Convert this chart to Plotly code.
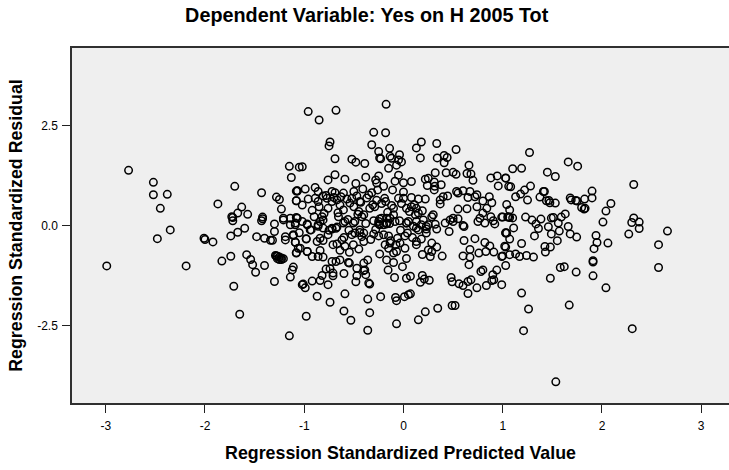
import plotly.graph_objects as go

predicted = [
-2.77,-2.52,-2.52,-2.38,-2.45,-1.87,-1.70,-1.43,-1.15,-1.13,-1.05,-1.08,-1.07,-1.28,-1.25,-1.08,-1.23,-1.63,-1.67,-1.57,-1.73,-1.42,-1.21,-1.08,
-2.99,-2.48,-2.35,-2.19,-2.01,-2.00,-1.92,-1.74,-1.67,-1.60,-1.72,-1.72,-1.43,-1.42,-1.30,-1.30,-1.48,-1.40,-1.34,-1.32,-1.19,-1.19,-1.11,-1.09,-1.06,-1.08,-1.74,-1.83,-1.58,-1.54,-1.52,-1.49,-1.40,-1.71,-1.65,-1.30,-1.14,-1.12,-1.11,-1.15,-1.29,-1.28,-1.27,-1.25,-1.23,-1.21,-1.27,-1.25,-1.23,-1.02,-1.21,-1.14,-1.14,-1.09,
-0.96,-0.85,-0.68,-0.175,-0.30,-0.18,-0.74,-0.75,-0.32,-0.25,-0.14,-0.24,-0.23,-0.135,-0.12,-0.04,-0.05,-0.02,-0.07,-0.15,-0.69,-0.52,-0.48,-0.39,0.18,0.13,0.17,0.335,0.34,0.41,0.44,0.41,0.53,0.66,-1.02,-0.69,-0.76,-0.59,-0.48,-0.38,-0.25,-0.28,-0.27,-0.20,-0.085,-0.05,0.0,0.08,-0.11,0.0,0.22,0.25,0.24,0.32,0.31,0.315,0.31,0.38,0.43,0.50,0.53,0.64,0.68,0.70,0.88,0.945,1.03,0.955,1.06,
-0.98,-0.87,-0.74,-0.59,-0.60,-0.53,-0.36,-0.34,-0.36,-0.23,-0.07,-0.08,-0.07,0.01,0.05,0.07,0.15,0.22,0.345,0.49,0.52,0.65,0.74,0.835,0.99,0.89,0.91,0.94,0.90,0.78,0.80,0.68,0.65,0.60,0.56,0.49,0.48,0.26,0.21,0.19,0.17,0.03,0.07,-0.09,-0.155,-0.01,0.03,-0.34,-0.35,-0.48,-0.38,-0.47,-0.60,-0.71,-0.76,-0.82,-0.84,-0.92,-1.01,-0.99,-0.39,-0.40,-0.36,-0.47,-0.555,-0.64,-0.92,-0.86,-0.81,-0.97,-0.84,-0.98,-1.05,-0.94,-0.24,-0.17,-0.10,0.13,0.19,0.27,0.39,0.60,0.67,0.66,0.67,0.76,0.83,0.91,0.87,0.82,0.72,0.61,0.99,1.03,1.03,1.03,0.46,0.61,0.335,
1.27,1.66,1.755,1.10,1.19,1.45,1.53,1.03,1.08,1.28,1.22,1.18,1.13,1.25,1.375,1.41,1.42,1.44,1.465,1.475,1.53,1.68,1.69,1.735,1.75,1.825,1.90,1.90,1.795,1.82,1.83,2.09,2.04,2.01,2.32,2.32,2.30,2.375,2.375,2.27,2.66,2.57,1.94,1.95,2.06,1.92,1.91,1.04,1.07,1.00,1.05,1.07,1.10,1.11,1.04,1.03,1.07,1.02,1.19,1.23,1.295,1.385,1.335,1.36,1.32,1.46,1.49,1.51,1.59,1.63,1.56,1.57,1.49,1.66,1.68,1.745,1.55,1.48,1.425,1.43,1.31,1.24,1.17,1.13,1.07,1.00,
1.19,1.26,1.21,1.535,2.305,1.67,1.48,1.58,1.62,1.74,1.91,1.91,2.04,2.57,
-1.07,-0.99,-0.89,-0.86,-0.81,-0.72,-0.69,-0.605,-0.50,-0.41,-0.35,-0.32,-0.26,-0.19,-0.18,-0.05,0.0,0.08,0.15,0.22,0.37,0.40,0.445,0.37,0.535,0.60,0.55,0.67,0.72,0.74,0.65,0.865,0.80,0.89,0.84,0.74,0.64,0.55,0.77,0.80,0.88,0.99,0.75,0.82,0.92,0.905,1.06,
-1.08,-0.96,-1.02,-0.89,-0.85,-0.86,-0.76,-0.77,-0.72,-0.67,-0.64,-0.605,-0.655,-0.59,-0.49,-0.52,-0.54,-0.50,-0.44,-0.45,-0.40,-0.42,-0.34,-0.29,-0.10,0.03,0.08,0.13,0.19,0.15,0.12,0.30,0.285,-0.10,-0.135,-0.17,-0.22,-0.25,-0.17,-0.20,0.03,0.13,0.20,0.18,0.25,0.32,0.42,0.47,0.50,0.55,0.50,0.60,-0.90,-0.82,-0.81,-0.84,-0.86,-1.07,-1.02,-0.97,-0.72,-0.67,-0.44,
-1.09,-0.97,-0.93,-1.11,-0.98,-1.09,-1.04,-0.97,-1.08,-0.87,-0.84,-0.81,-0.76,-0.72,-0.68,-0.86,-0.81,-0.71,-0.67,-0.62,-0.64,-0.59,-0.545,-0.505,-0.45,-0.40,-0.52,-0.49,-0.44,-0.40,-0.605,-0.505,-0.30,-0.25,-0.20,-0.15,-0.06,0.015,0.04,-0.185,-0.15,-0.135,-0.075,-0.035,0.015,-0.07,-0.10,0.18,0.23,0.13,0.15,0.23,0.285,0.335,0.25,0.285,-0.25,-0.17,-0.24,-0.085,0.03,0.13,0.23,-0.72,-0.68,-0.74,-0.78,-0.71,-0.40,-0.545,
-0.78,-0.70,-0.63,-0.57,-0.47,-0.43,-0.37,-0.31,-0.27,-0.22,-0.16,-0.12,-0.02,0.06,0.11,-0.92,-0.80,-0.66,-0.56,-0.46,-0.38,-0.30,-0.24,-0.14,-0.04,0.05,0.10,-0.75,-0.60,-0.55,-0.42,-0.33,-0.28,-0.13,-0.03,0.09,
]

residual = [
1.38,1.08,0.77,0.78,0.43,0.54,0.98,0.82,1.48,1.20,1.46,0.86,0.86,0.71,0.65,0.62,0.41,0.46,0.31,0.28,0.22,0.21,0.18,0.20,
-1.01,-0.33,-0.11,-1.01,-0.32,-0.35,-0.41,-0.26,-0.17,-0.07,0.12,0.20,0.12,0.17,0.04,-0.15,-0.28,-0.32,-0.37,-0.37,-0.36,-0.28,-0.25,-0.42,-0.57,-0.68,-0.77,-0.89,-0.73,-0.85,-0.98,-1.17,-1.00,-1.52,-2.22,-1.40,-1.29,-1.11,-1.04,-2.76,-0.75,-0.76,-0.77,-0.79,-0.81,-0.83,-0.83,-0.85,-0.85,-1.48,0.14,0.18,0.02,0.06,
2.85,2.64,2.88,3.03,2.33,2.32,2.09,1.99,2.02,1.85,1.93,1.69,1.67,1.73,1.68,1.77,1.64,1.59,1.51,1.43,1.67,1.66,1.585,1.55,2.09,1.94,1.69,2.05,1.69,1.75,1.70,1.57,1.90,1.51,1.47,1.27,1.14,1.16,1.05,1.21,1.24,1.14,1.06,0.98,1.11,1.26,1.07,1.10,0.89,0.84,1.16,1.18,1.00,1.32,1.09,0.98,0.89,1.02,1.32,1.33,1.28,1.30,1.29,1.13,1.19,1.24,1.19,0.99,0.98,
-2.27,-1.77,-1.92,-1.71,-2.14,-2.37,-2.62,-2.18,-1.84,-1.78,-2.46,-1.80,-1.88,-1.78,-1.73,-1.71,-2.36,-2.16,-2.07,-2.00,-2.00,-1.70,-1.56,-1.50,-1.48,-1.375,-1.36,-1.115,-1.23,-1.15,-1.11,-1.36,-1.40,-1.50,-1.46,-1.41,-1.30,-1.37,-1.34,-1.25,-1.42,-1.32,-1.27,-1.30,-1.115,-1.03,-0.825,-1.465,-1.44,-1.41,-1.23,-1.26,-1.20,-1.26,-1.48,-1.25,-1.375,-1.39,-1.465,-1.56,-1.11,-0.94,-0.86,-1.07,-0.925,-0.86,-0.775,-0.775,-0.79,-0.65,-0.625,-0.33,-0.18,-0.11,-0.71,-0.86,-0.925,-0.48,-0.725,-0.775,-0.765,-0.76,-0.60,-0.98,-0.79,-0.69,-0.65,-0.665,-0.51,-0.425,-0.33,-0.375,-0.775,-1.00,-0.54,-0.19,-0.15,-0.025,-0.09,
1.825,1.59,1.485,1.42,1.43,1.335,1.225,1.185,0.97,0.985,0.885,0.785,0.72,0.635,0.71,0.85,0.85,0.62,0.625,0.57,0.56,0.69,0.64,0.625,0.61,0.66,0.86,0.69,0.45,0.41,0.43,0.55,0.36,0.085,1.025,0.19,0.075,0.085,-0.075,-0.215,-0.14,-0.48,-0.25,-0.425,-0.44,-0.58,-0.88,0.525,0.39,0.21,0.21,0.20,0.19,-0.06,-0.19,-0.18,-0.34,-0.52,-0.45,0.21,0.135,0.16,0.04,-0.075,-0.26,-0.03,0.185,0.20,0.21,0.29,0.06,-0.14,-0.21,-0.025,-0.21,-0.29,-0.38,-0.54,-0.525,-0.665,-0.79,-0.75,-0.775,-0.71,-0.73,-0.76,
-1.69,-2.09,-2.63,-3.91,-2.58,-1.99,-1.32,-1.05,-1.03,-1.165,-0.915,-1.26,-1.56,-1.05,
0.87,0.91,0.95,0.85,0.74,0.85,0.82,0.81,0.85,0.915,0.765,0.82,0.89,0.68,0.60,0.68,0.68,0.70,0.66,0.66,0.64,0.72,0.74,0.54,0.85,0.87,0.81,0.85,0.72,0.77,0.70,0.72,0.615,0.57,0.43,0.47,0.42,0.41,0.18,0.31,0.22,0.21,0.10,0.06,0.04,0.12,0.22,
0.62,0.66,0.51,0.68,0.47,0.60,0.43,0.68,0.60,0.64,0.515,0.39,0.22,0.10,0.10,0.68,0.56,0.47,0.60,0.35,0.27,0.22,0.43,0.47,0.43,0.43,0.47,0.43,0.37,0.31,0.27,0.27,0.22,0.27,0.18,0.18,0.18,0.10,0.06,0.02,0.06,0.10,0.14,0.02,0.02,0.03,0.06,0.14,0.18,0.17,0.10,0.00,0.22,0.22,0.14,0.10,0.02,0.18,0.10,0.02,-0.07,-0.04,-0.11,
0.02,0.04,-0.11,-0.23,-0.34,-0.42,-0.57,-0.65,-0.69,-0.40,-0.32,-0.375,-0.23,-0.09,-0.07,-0.02,-0.065,-0.48,-0.46,-0.36,-0.62,-0.52,-0.67,-0.48,-0.59,-0.40,-0.23,-0.19,-0.175,-0.19,0.06,0.06,-0.21,-0.26,-0.23,-0.26,-0.32,-0.26,-0.19,-0.48,-0.57,-0.44,-0.48,-0.44,-0.57,-0.65,-0.69,-0.34,-0.19,-0.40,-0.11,-0.09,-0.44,-0.54,-0.61,-0.65,0.04,0.04,0.02,0.10,0.06,-0.065,-0.025,-0.90,-0.90,-1.08,-1.09,-1.19,-1.13,-0.94,
0.75,0.70,0.72,0.66,0.74,0.58,0.69,0.52,0.63,0.55,0.33,0.50,0.55,0.35,0.52,0.38,0.30,0.32,0.15,0.28,0.05,0.12,0.16,0.05,0.12,0.10,-0.02,-0.12,-0.30,-0.12,-0.28,-0.35,-0.10,-0.38,-0.12,-0.30,
]

x_ticks = [-3, -2, -1, 0, 1, 2, 3]
x_tick_labels = ["-3", "-2", "-1", "0", "1", "2", "3"]
y_ticks = [-2.5, 0.0, 2.5]
y_tick_labels = ["-2.5", "0.0", "2.5"]

chart_title = "Dependent Variable: Yes on H 2005 Tot"
x_title = "Regression Standardized Predicted Value"
y_title = "Regression Standardized Residual"

n = min(len(predicted), len(residual))

FONT = "Liberation Sans, Arial, sans-serif"
fig = go.Figure(go.Scatter(
    x=predicted[:n], y=residual[:n], mode="markers",
    marker=dict(symbol="circle-open", size=7.5, color="black", line=dict(width=1.5, color="black")),
    cliponaxis=True, hoverinfo="skip",
))
axis_common = dict(showgrid=False, zeroline=False, showline=True, linecolor="#303030", linewidth=1.5,
                   ticks="outside", ticklen=8, tickwidth=1.3, tickcolor="#202020", automargin=False,
                   tickfont=dict(family=FONT, size=12, color="black"))
fig.update_layout(
    width=729, height=470, margin=dict(l=72, r=0, t=48, b=67),
    paper_bgcolor="white", plot_bgcolor="#efefef", showlegend=False,
    title=dict(text="<b>%s</b>" % chart_title, x=0.503, xanchor="center", y=0.968, yanchor="middle",
               font=dict(family=FONT, size=19.8, color="black")),
    xaxis=dict(range=[-3.34, 3.28], tickvals=x_ticks, ticktext=x_tick_labels, mirror=True, ticklabelstandoff=3,
               title=dict(text="<b>%s</b>" % x_title, standoff=14, font=dict(family=FONT, size=17.8, color="black")),
               **axis_common),
    yaxis=dict(range=[-4.44, 4.44], tickvals=y_ticks, ticktext=y_tick_labels, mirror=True, ticklabelstandoff=2,
               title=dict(text="<b>%s</b>" % y_title, standoff=10, font=dict(family=FONT, size=17.8, color="black")),
               **axis_common),
)
fig.write_html("out.html", post_script="document.body.style.margin='0';", config={"displayModeBar": False})
